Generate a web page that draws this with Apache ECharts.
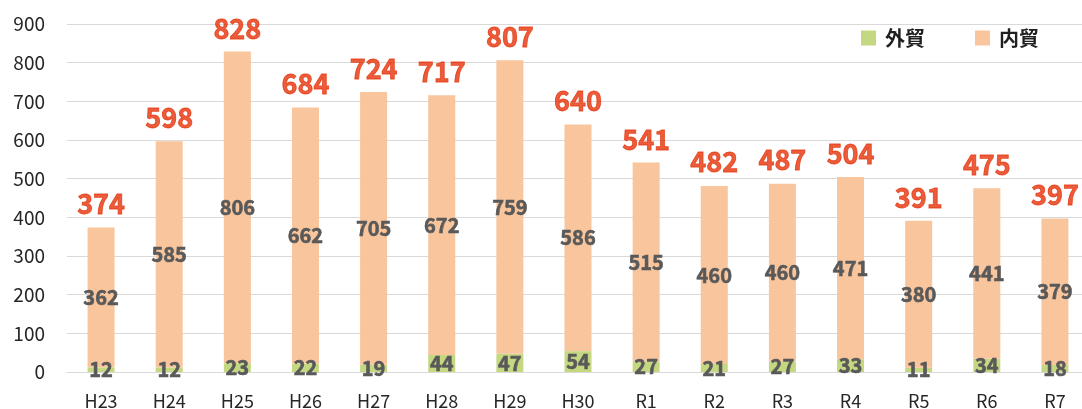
<!DOCTYPE html>
<html>
<head>
<meta charset="utf-8">
<script src="https://cdn.jsdelivr.net/npm/echarts@6/dist/echarts.min.js"></script>
<style>
  html, body { margin: 0; padding: 0; background: #fff; }
  #chart { width: 1082px; height: 409px; }
</style>
</head>
<body>
<div id="chart"></div>
<script>
const categories = ["H23", "H24", "H25", "H26", "H27", "H28", "H29", "H30", "R1", "R2", "R3", "R4", "R5", "R6", "R7"];
const foreignTrade = [12, 12, 23, 22, 19, 44, 47, 54, 27, 21, 27, 33, 11, 34, 18];
const domesticTrade = [362, 585, 806, 662, 705, 672, 759, 586, 515, 460, 460, 471, 380, 441, 379];
const totals = [374, 598, 828, 684, 724, 717, 807, 640, 541, 482, 487, 504, 391, 475, 397];

const font = "'Noto Sans CJK JP', 'Noto Sans', sans-serif";
const chart = echarts.init(document.getElementById("chart"));

// value labels inside the stacked segments
const innerLabel = {
  show: true,
  position: "inside",
  color: "#595959",
  fontFamily: font,
  fontWeight: "bold",
  fontSize: 20,
  textBorderColor: "#595959",
  textBorderWidth: 0.6,
};

chart.setOption({
  animation: false,
  textStyle: { fontFamily: font },
  grid: { left: 67, top: 24, width: 1022, bottom: 37, outerBoundsMode: "none", containLabel: false },
  legend: {
    data: ["外貿", "内貿"],
    right: 43,
    top: 28,
    itemWidth: 15,
    itemHeight: 15,
    itemGap: 50,
    backgroundColor: "#fff",
    padding: 0,
    icon: "rect",
    textStyle: { fontSize: 20, fontWeight: "bold", color: "#1F1F1F", fontFamily: font, padding: [0, 0, 0, 4] },
  },
  xAxis: {
    type: "category",
    data: categories,
    axisLine: { show: true, lineStyle: { color: "#D9D9D9" } },
    axisTick: { show: false },
    axisLabel: { color: "#262626", fontSize: 18, margin: 20, fontFamily: font },
  },
  yAxis: {
    type: "value",
    min: 0,
    max: 900,
    interval: 100,
    axisLine: { show: false },
    axisTick: { show: false },
    axisLabel: { color: "#262626", fontSize: 19, margin: 22, fontFamily: font },
    splitLine: { lineStyle: { color: "#D9D9D9", width: 1 } },
  },
  series: [
    {
      name: "外貿",
      type: "bar",
      stack: "total",
      barWidth: 27,
      data: foreignTrade,
      itemStyle: { color: "#C4D882" },
      label: innerLabel,
    },
    {
      name: "内貿",
      type: "bar",
      stack: "total",
      barWidth: 27,
      data: domesticTrade,
      itemStyle: { color: "#F8C59C" },
      label: innerLabel,
    },
    {
      // totals drawn as invisible points so the label sits above each stack
      name: "合計",
      type: "scatter",
      data: totals,
      symbolSize: 0,
      silent: true,
      label: {
        show: true,
        position: "top",
        distance: 10,
        color: "#E5330A",
        fontFamily: font,
        fontWeight: "bold",
        fontSize: 27,
        textBorderColor: "#E5330A",
        textBorderWidth: 0.8,
      },
    },
  ],
});
</script>
</body>
</html>
